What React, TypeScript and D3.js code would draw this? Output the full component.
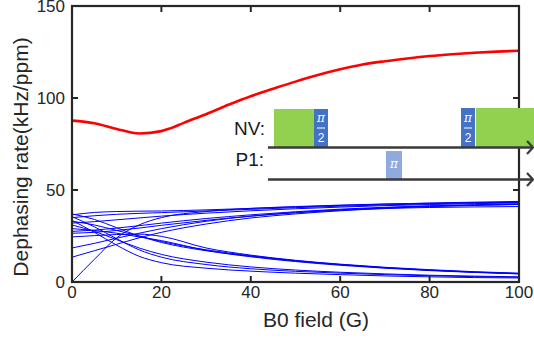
import React from "react";
import * as d3 from "d3";

const W = 534;
const H = 341;

// Red curve
const redX = [0, 5, 10, 15, 20, 22, 25, 30, 35, 40, 45, 50, 55, 60, 65, 70, 75, 80, 85, 90, 95, 100];
const redY = [87.7, 86.3, 83.2, 80.7, 82, 83.5, 86.5, 91.2, 96.3, 101, 105, 108.9, 112.5, 115.6, 118.2, 120, 121.5, 122.8, 123.8, 124.6, 125.2, 125.7];

// Blue curves: values at blueX
const blueX = [0, 5, 10, 15, 20, 30, 40, 50, 60, 70, 80, 90, 100];
const blueSeries: number[][] = [
  [36.5, 37.8, 38.3, 38.5, 38.6, 39.2, 40, 40.8, 41.6, 42.3, 42.9, 43.4, 43.8],
  [35, 36, 36.8, 37.3, 37.7, 38.6, 39.5, 40.4, 41.2, 41.9, 42.5, 43, 43.3],
  [32, 32.8, 33.8, 34.8, 35.8, 37.4, 38.7, 39.8, 40.7, 41.5, 42.1, 42.6, 43],
  [27.5, 28.2, 29.3, 30.6, 32, 34.5, 36.5, 38.2, 39.6, 40.6, 41.4, 42, 42.5],
  [26.5, 27, 28, 29.3, 30.8, 33.5, 35.8, 37.6, 39, 40.1, 41, 41.6, 42.1],
  [18.5, 21, 23.8, 26.5, 29, 33, 35.8, 37.8, 39.3, 40.4, 41.2, 41.8, 42.2],
  [13.5, 17, 20.5, 24, 27, 31.5, 34.8, 37, 38.7, 39.9, 40.5, 40.8, 41],
  [0, 12.3, 24, 31, 35, 38.3, 40, 41, 41.8, 42.4, 42.8, 43.1, 43.3],
  [33.5, 27, 20, 14, 10.5, 7.5, 5.9, 4.8, 4, 3.3, 2.8, 2.4, 2.2],
  [35.5, 30, 23.5, 17.5, 13.5, 9.5, 7.2, 5.8, 4.8, 4, 3.4, 2.9, 2.6],
  [31, 27.5, 23, 18.5, 15, 10.8, 8.2, 6.5, 5.3, 4.4, 3.7, 3.2, 2.8],
  [37, 34, 29.5, 25, 21.5, 17, 14, 11.4, 9.4, 7.7, 6.4, 5.3, 4.5],
  [33, 31, 28, 25, 22, 17.5, 14.3, 11.6, 9.5, 7.8, 6.5, 5.4, 4.6],
  [29, 28, 26.5, 24.5, 22.5, 17.2, 13.7, 11.1, 9.1, 7.5, 6.2, 5.2, 4.4],
  [24.5, 25.2, 25.8, 26, 24.8, 18.5, 14.6, 11.8, 9.7, 8, 6.7, 5.6, 4.8],
];

const xTicks = [0, 20, 40, 60, 80, 100];
const yTicks = [0, 50, 100, 150];

const FONT = "'Liberation Sans', Arial, sans-serif";
const AX = "#262626";

export default function App() {
  const x = d3.scaleLinear().domain([0, 100]).range([72, 519]);
  const y = d3.scaleLinear().domain([0, 150]).range([282, 6]);

  const line = d3
    .line<[number, number]>()
    .x((d) => x(d[0]))
    .y((d) => y(d[1]))
    .curve(d3.curveMonotoneX);

  const redPts = redX.map((v, i) => [v, redY[i]] as [number, number]);

  return (
    <svg
      width={W}
      height={H}
      style={{ position: "absolute", left: 0, top: 0, background: "#fff" }}
      fontFamily={FONT}
    >
      {/* blue lines */}
      {blueSeries.map((s, k) => (
        <path
          key={k}
          d={line(blueX.map((v, i) => [v, s[i]] as [number, number])) || ""}
          fill="none"
          stroke="#0000ff"
          strokeWidth={1}
        />
      ))}
      {/* red line */}
      <path d={line(redPts) || ""} fill="none" stroke="#ff0000" strokeWidth={2.6} />

      {/* axes box */}
      <rect x={72} y={6} width={447} height={276} fill="none" stroke={AX} strokeWidth={2.2} />
      {xTicks.map((t) => (
        <g key={"x" + t}>
          <line x1={x(t)} x2={x(t)} y1={282} y2={276} stroke={AX} strokeWidth={2} />
          <line x1={x(t)} x2={x(t)} y1={6} y2={12} stroke={AX} strokeWidth={2} />
          <text x={x(t)} y={297.5} textAnchor="middle" fontSize={17} fill={AX}>
            {t}
          </text>
        </g>
      ))}
      {yTicks.map((t) => (
        <g key={"y" + t}>
          <line x1={72} x2={78} y1={y(t)} y2={y(t)} stroke={AX} strokeWidth={2} />
          <line x1={519} x2={513} y1={y(t)} y2={y(t)} stroke={AX} strokeWidth={2} />
          <text x={65} y={y(t) + 6} textAnchor="end" fontSize={17} fill={AX}>
            {t}
          </text>
        </g>
      ))}
      <text x={316} y={327} textAnchor="middle" fontSize={21} fill={AX}>
        B0 field (G)
      </text>
      <text
        transform="translate(28,157) rotate(-90)"
        textAnchor="middle"
        fontSize={21}
        fill={AX}
      >
        Dephasing rate(kHz/ppm)
      </text>

      {/* inset pulse sequence */}
      <g>
        <rect x={274} y={109} width={40} height={38} fill="#92d050" />
        <rect x={314} y={109} width={14} height={38} fill="#4472c4" />
        <rect x={461} y={108} width={14} height={39} fill="#4472c4" />
        <rect x={476} y={108} width={58} height={39} fill="#92d050" />
        <rect x={386} y={151} width={16} height={28} fill="#8faadc" />
        {[321, 468].map((cx) => (
          <g key={cx} fill="#fff">
            <text x={cx} y={122} textAnchor="middle" fontSize={12} fontStyle="italic" fontFamily="'DejaVu Serif', serif">
              π
            </text>
            <line x1={cx - 4} x2={cx + 4} y1={128} y2={128} stroke="#fff" strokeWidth={1} />
            <text x={cx} y={142} textAnchor="middle" fontSize={12} fontFamily={FONT}>
              2
            </text>
          </g>
        ))}
        <text x={394} y={168} textAnchor="middle" fontSize={12} fontStyle="italic" fill="#fff" fontFamily="'DejaVu Serif', serif">
          π
        </text>
        <line x1={268} x2={533} y1={147.5} y2={147.5} stroke="#3a3a3a" strokeWidth={2.6} />
        <polyline points="527,141 533,147.5 527,154" fill="none" stroke="#3a3a3a" strokeWidth={2.2} />
        <line x1={268} x2={533} y1={179.5} y2={179.5} stroke="#3a3a3a" strokeWidth={2.6} />
        <polyline points="527,173 533,179.5 527,186" fill="none" stroke="#3a3a3a" strokeWidth={2.2} />
        <text x={265} y={135} textAnchor="end" fontSize={19} fill="#1a1a1a">
          NV:
        </text>
        <text x={264} y={166} textAnchor="end" fontSize={19} fill="#1a1a1a">
          P1:
        </text>
      </g>
    </svg>
  );
}
